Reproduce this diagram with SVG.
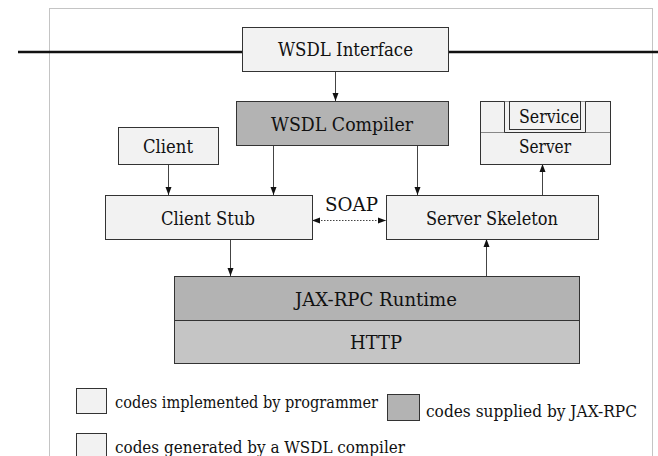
<svg xmlns="http://www.w3.org/2000/svg" width="658" height="456" viewBox="0 0 658 456">
<style>
.box{stroke:#333;stroke-width:1}
.light{fill:#f2f2f2}
.dark{fill:#b3b3b3}
.http{fill:#c5c5c5}
text{font-family:'DejaVu Serif','Noto Serif','Liberation Serif',serif;fill:#111}
.t{font-size:18.5px;text-anchor:middle}
.lg{font-size:16px}
.conn{stroke:#444;stroke-width:1;fill:none}
</style>
<defs>
<marker id="ah" viewBox="0 0 8 8" refX="8" refY="4" markerWidth="8" markerHeight="8" markerUnits="userSpaceOnUse" orient="auto-start-reverse">
<path d="M0,1 L8,4 L0,7 Z" fill="#111"/>
</marker>
</defs>
<rect x="49.5" y="8.5" width="603" height="460" fill="none" stroke="#888" stroke-width="1" stroke-dasharray="1,1"/>
<g id="connectors">
<line x1="18" y1="52" x2="242" y2="52" stroke="#111" stroke-width="2.6"/>
<line x1="448" y1="52" x2="658" y2="52" stroke="#111" stroke-width="2.6"/>
<line class="conn" x1="335.5" y1="71" x2="335.5" y2="101" marker-end="url(#ah)"/>
<line class="conn" x1="168.5" y1="164" x2="168.5" y2="195" marker-end="url(#ah)"/>
<line class="conn" x1="273.5" y1="145" x2="273.5" y2="195" marker-end="url(#ah)"/>
<line class="conn" x1="417.5" y1="145" x2="417.5" y2="195" marker-end="url(#ah)"/>
<line class="conn" x1="542.5" y1="195" x2="542.5" y2="164" marker-end="url(#ah)"/>
<line class="conn" x1="312" y1="220.5" x2="386" y2="220.5" stroke-dasharray="1.5,1.5" marker-start="url(#ah)" marker-end="url(#ah)"/>
<line class="conn" x1="230.5" y1="239" x2="230.5" y2="276" marker-end="url(#ah)"/>
<line class="conn" x1="486.5" y1="276" x2="486.5" y2="239" marker-end="url(#ah)"/>
<text class="t" x="351.5" y="211" textLength="53" lengthAdjust="spacingAndGlyphs">SOAP</text>
</g>
<g id="wsdl-interface">
<rect class="box light" x="242.5" y="27.5" width="206" height="44"/>
<text class="t" x="345.5" y="56" textLength="135" lengthAdjust="spacingAndGlyphs">WSDL Interface</text>
</g>
<g id="wsdl-compiler">
<rect class="box dark" x="236.5" y="101.5" width="212" height="44"/>
<text class="t" x="342" y="131" textLength="142" lengthAdjust="spacingAndGlyphs">WSDL Compiler</text>
</g>
<g id="client">
<rect class="box light" x="118.5" y="127.5" width="100" height="37"/>
<text class="t" x="168" y="153" textLength="50" lengthAdjust="spacingAndGlyphs">Client</text>
</g>
<g id="server">
<rect class="box light" x="480.5" y="101.5" width="130" height="63"/>
<line x1="481" y1="132.5" x2="610" y2="132.5" stroke="#888" stroke-width="1"/>
<path d="M504.5,101.5 V132.5 H585.5 V101.5" fill="#f2f2f2" stroke="#333" stroke-width="1"/>
<text class="t" x="545" y="153" textLength="52" lengthAdjust="spacingAndGlyphs">Server</text>
</g>
<g id="service">
<rect class="box light" x="509.5" y="101.5" width="71" height="28"/>
<text class="t" x="549" y="123" textLength="60" lengthAdjust="spacingAndGlyphs">Service</text>
</g>
<g id="client-stub">
<rect class="box light" x="105.5" y="195.5" width="207" height="44"/>
<text class="t" x="208" y="225" textLength="94" lengthAdjust="spacingAndGlyphs">Client Stub</text>
</g>
<g id="server-skeleton">
<rect class="box light" x="386.5" y="195.5" width="212" height="44"/>
<text class="t" x="492" y="225" textLength="132" lengthAdjust="spacingAndGlyphs">Server Skeleton</text>
</g>
<g id="jax-rpc-runtime">
<rect class="box dark" x="174.5" y="276.5" width="405" height="44"/>
<text class="t" x="376" y="306" textLength="162" lengthAdjust="spacingAndGlyphs">JAX-RPC Runtime</text>
</g>
<g id="http">
<rect class="box http" x="174.5" y="320.5" width="405" height="43"/>
<text class="t" x="376" y="349" textLength="52" lengthAdjust="spacingAndGlyphs">HTTP</text>
</g>
<g id="legend">
<rect class="box light" x="76.5" y="388.5" width="30" height="25"/>
<text class="lg" x="115" y="408" textLength="263" lengthAdjust="spacingAndGlyphs">codes implemented by programmer</text>
<rect class="box dark" x="387.5" y="394.5" width="32" height="26"/>
<text class="lg" x="426" y="417" textLength="211" lengthAdjust="spacingAndGlyphs">codes supplied by JAX-RPC</text>
<rect class="box light" x="76.5" y="433.5" width="30" height="36"/>
<text class="lg" x="115" y="453" textLength="290" lengthAdjust="spacingAndGlyphs">codes generated by a WSDL compiler</text>
</g>
</svg>
